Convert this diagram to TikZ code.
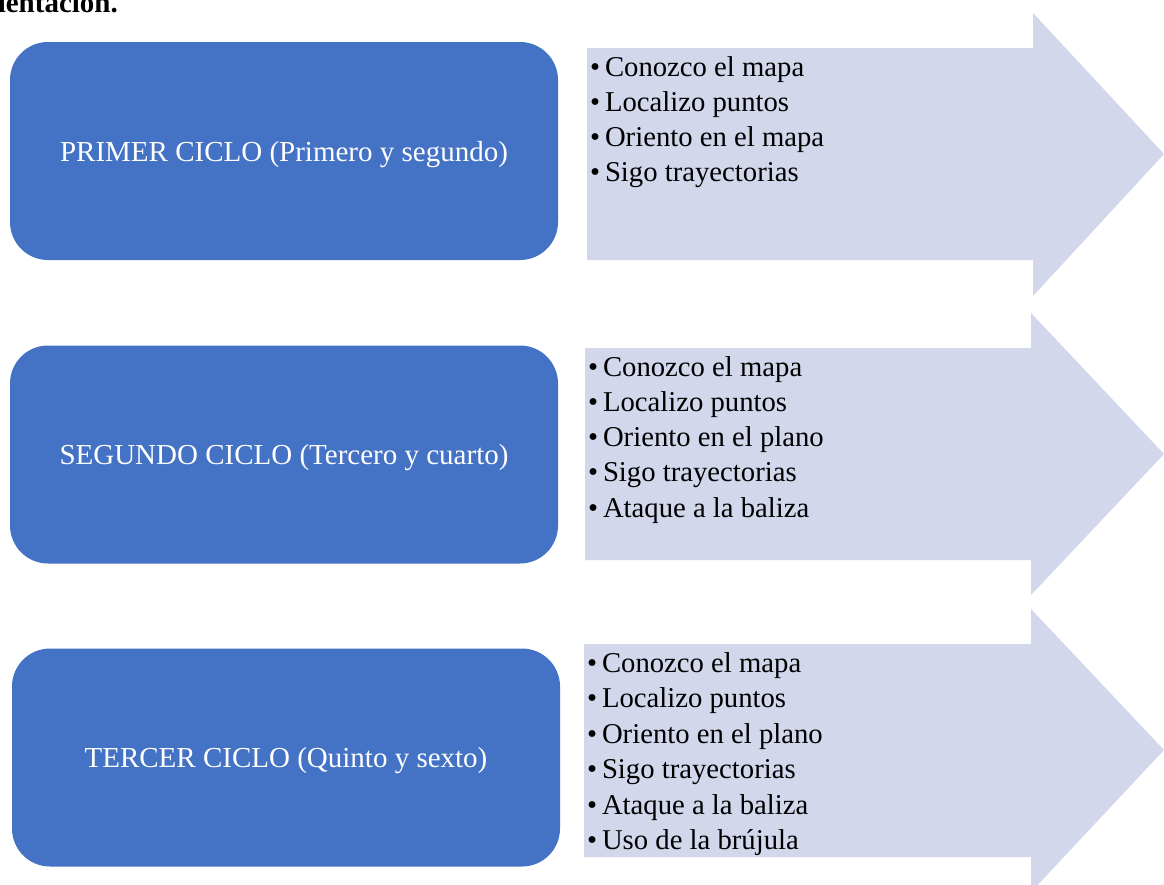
\documentclass[tikz,border=0pt]{standalone}
\usepackage{fontspec}
\setmainfont{Liberation Serif}
\definecolor{boxblue}{HTML}{4472C4}
\definecolor{arrowfill}{RGB}{210,215,236}
\begin{document}
\begin{tikzpicture}[x=1pt,y=-1pt,
  cyclebox/.style={draw=none, fill=boxblue, rounded corners=38pt, minimum width=548pt, minimum height=218pt, text=white, font=\fontsize{29}{34}\selectfont, inner sep=0pt, text depth=0pt},
  item/.style={anchor=base west, inner sep=0pt, font=\fontsize{28.7}{34}\selectfont, text=black},
  arrowshape/.style={fill=arrowfill, draw=none}]
\useasboundingbox (0,0) rectangle (1164,884);
\clip (0,0) rectangle (1164,884);
\fill[white] (0,0) rectangle (1164,884);
% header fragment
\node[anchor=base east, inner sep=0pt, font=\bfseries\fontsize{29}{34}\selectfont] (head) at (118,12) {Orientación.};
% arrows
\fill[arrowshape] (587,48) -- (1033,48) -- (1033,13) -- (1164,154) -- (1033,296) -- (1033,260) -- (587,260) -- cycle;
\fill[arrowshape] (585,348) -- (1031,348) -- (1031,313) -- (1164,454) -- (1031,595) -- (1031,560) -- (585,560) -- cycle;
\fill[arrowshape] (584,644) -- (1031,644) -- (1031,609) -- (1164,750) -- (1031,892) -- (1031,857) -- (584,857) -- cycle;
% boxes
\node[cyclebox] (c1) at (284,151) {PRIMER CICLO (Primero y segundo)};
\node[cyclebox] (c2) at (284,454.5) {SEGUNDO CICLO (Tercero y cuarto)};
\node[cyclebox] (c3) at (286,757.5) {TERCER CICLO (Quinto y sexto)};
% items
\foreach \t [count=\i] in {Conozco el mapa, Localizo puntos, Oriento en el mapa, Sigo trayectorias}
  \node[item] (a1-\i) at (590,{76+35*(\i-1)}) {•\,\t};
\foreach \t [count=\i] in {Conozco el mapa, Localizo puntos, Oriento en el plano, Sigo trayectorias, Ataque a la baliza}
  \node[item] (a2-\i) at (588,{376+35.3*(\i-1)}) {•\,\t};
\foreach \t [count=\i] in {Conozco el mapa, Localizo puntos, Oriento en el plano, Sigo trayectorias, Ataque a la baliza, Uso de la brújula}
  \node[item] (a3-\i) at (587,{672+35.5*(\i-1)}) {•\,\t};
\end{tikzpicture}
\end{document}
